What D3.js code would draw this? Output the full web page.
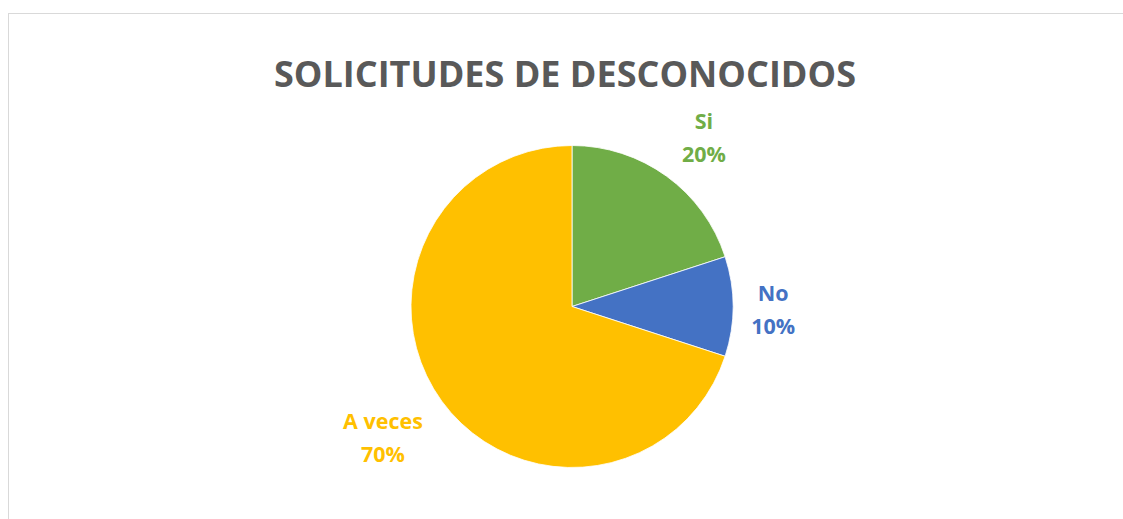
<!DOCTYPE html>
<html>
<head>
<meta charset="utf-8">
<script src="https://cdn.jsdelivr.net/npm/d3@7"></script>
<style>
  body { margin: 0; background: #fff; }
  svg { display: block; }
</style>
</head>
<body>
<div id="chart"></div>
<script>
// datos del gráfico
const categories = ["Si", "No", "A veces"];
const values = [20, 10, 70];
const colors = ["#70AD47", "#4472C4", "#FFC000"];
const title = "SOLICITUDES DE DESCONOCIDOS";

const width = 1123;
const height = 519;
const cx = 572, cy = 306.5, radius = 161;

const svg = d3.select("#chart")
    .append("svg")
    .attr("width", width)
    .attr("height", height);

// marco del gráfico
svg.append("rect")
    .attr("x", 8.5)
    .attr("y", 13.5)
    .attr("width", width)
    .attr("height", height)
    .attr("fill", "#fff")
    .attr("stroke", "#d9d9d9")
    .attr("stroke-width", 1);

svg.append("text")
    .attr("x", 565)
    .attr("y", 87)
    .attr("text-anchor", "middle")
    .attr("font-family", "'Open Sans', sans-serif")
    .attr("font-weight", "bold")
    .attr("font-size", 36)
    .attr("fill", "#595959")
    .text(title);

const data = categories.map((c, i) => ({ name: c, value: values[i], color: colors[i] }));
const total = d3.sum(values);

const pie = d3.pie().sort(null).value(d => d.value);
const arc = d3.arc().innerRadius(0).outerRadius(radius);

const g = svg.append("g").attr("transform", `translate(${cx},${cy})`);

g.selectAll("path")
    .data(pie(data))
    .enter()
    .append("path")
    .attr("d", arc)
    .attr("fill", d => d.data.color)
    .attr("stroke", "#fff")
    .attr("stroke-width", 0.8);

// posición de etiquetas (ajuste tipo "mejor ajuste" de Excel)
const labelAdjust = [
    { r: 1.334, da: 0.033 },
    { r: 1.25, da: 0.012 },
    { r: 1.427, da: 0.024 }
];

const labels = g.selectAll(".label")
    .data(pie(data))
    .enter()
    .append("text")
    .attr("class", "label")
    .attr("text-anchor", "middle")
    .attr("font-family", "'Open Sans', sans-serif")
    .attr("font-weight", "bold")
    .attr("font-size", 21.5)
    .attr("fill", d => d.data.color)
    .attr("transform", (d, i) => {
        const a = (d.startAngle + d.endAngle) / 2 + labelAdjust[i].da;
        const r = radius * labelAdjust[i].r;
        return `translate(${Math.sin(a) * r},${-Math.cos(a) * r})`;
    });

labels.append("tspan")
    .attr("x", 0)
    .attr("y", -8)
    .text(d => d.data.name);

labels.append("tspan")
    .attr("x", 0)
    .attr("y", 25)
    .text(d => Math.round(d.data.value / total * 100) + "%");
</script>
</body>
</html>
